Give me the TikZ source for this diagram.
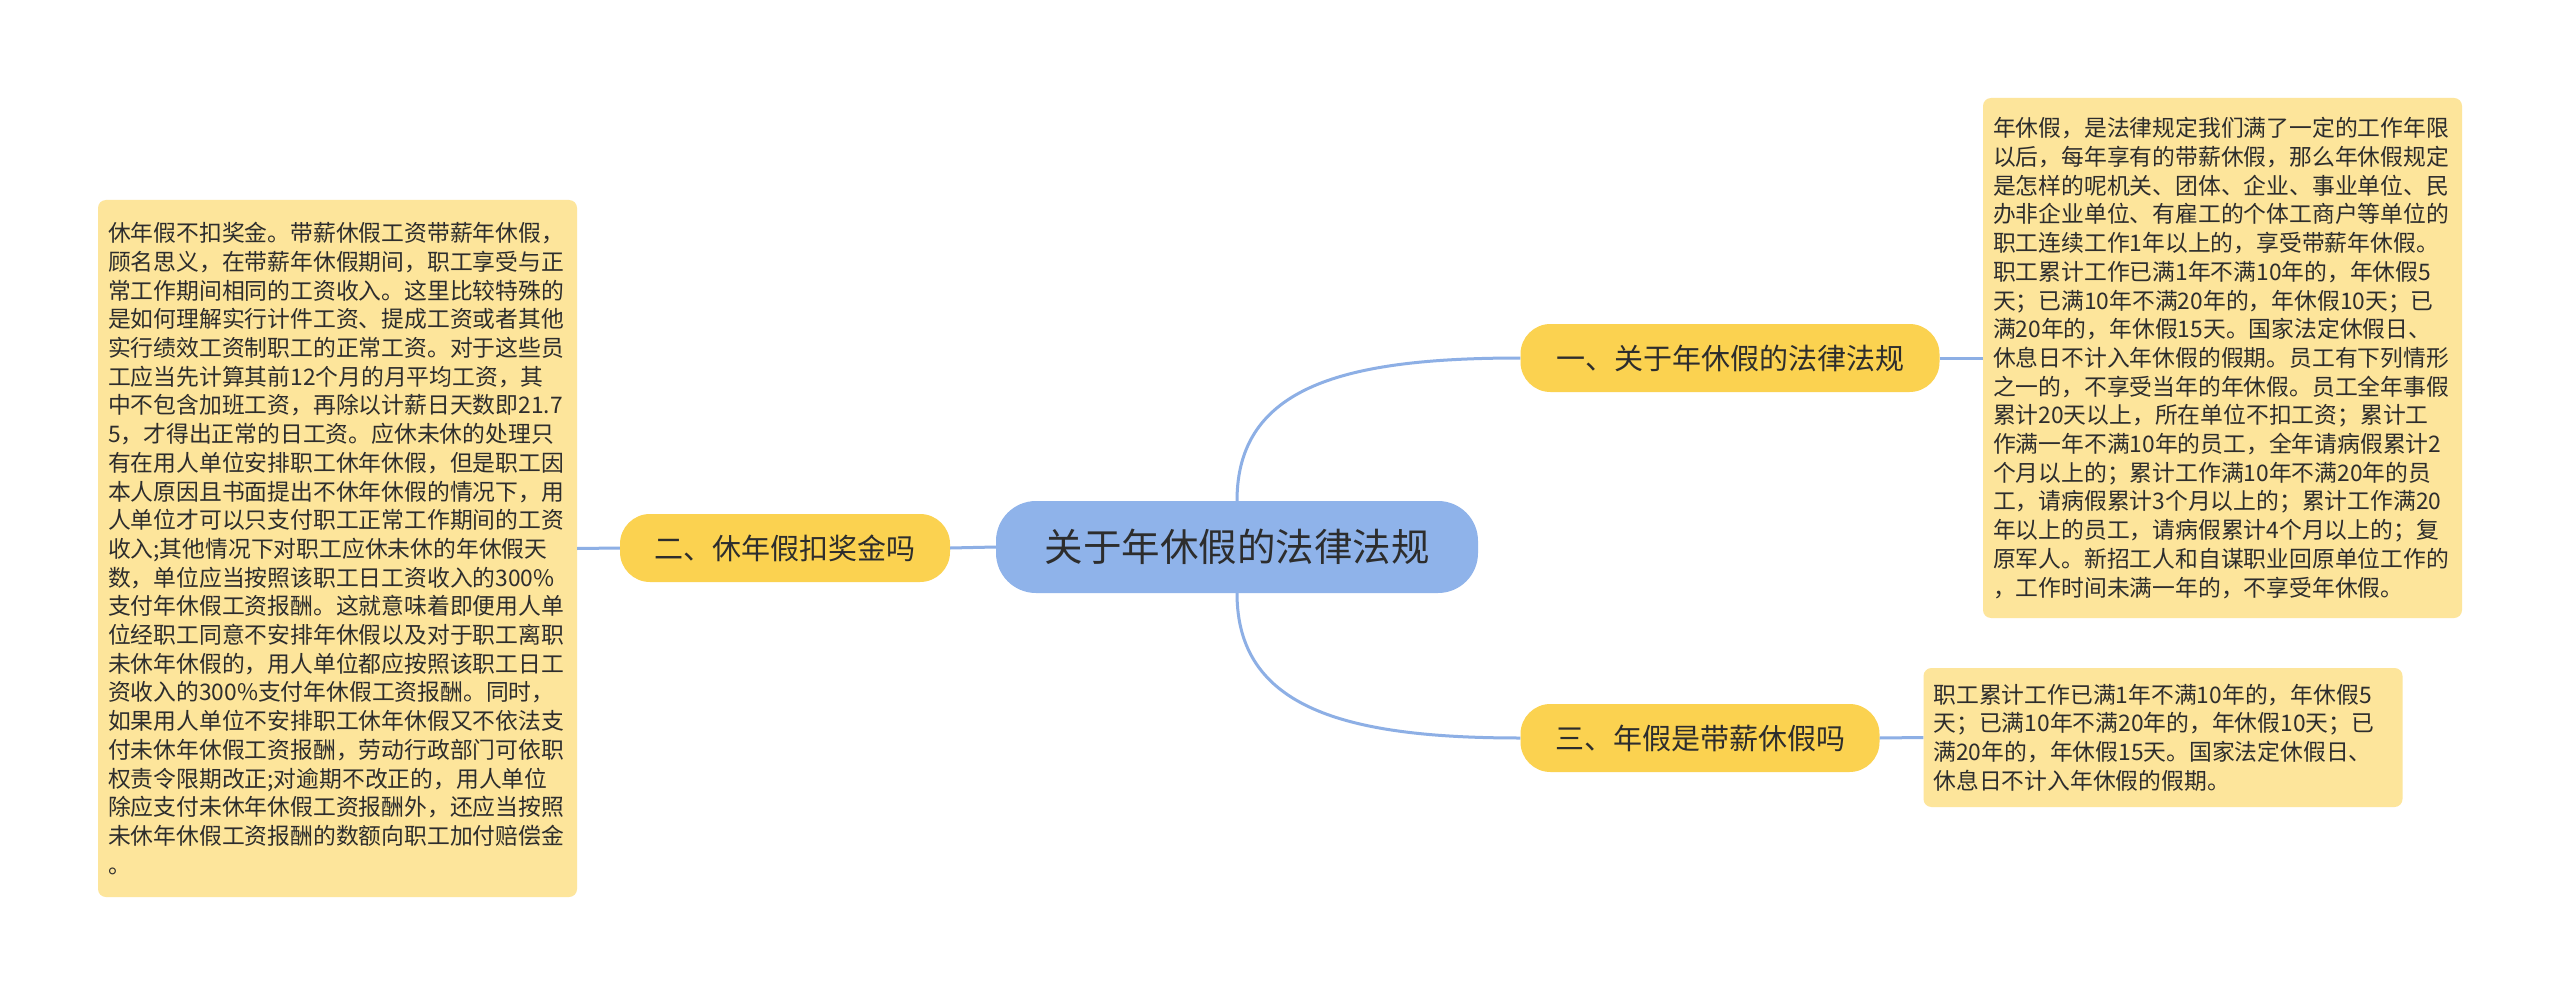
\documentclass[tikz,border=0pt]{standalone}
\usepackage{fontspec}
\setmainfont{Noto Sans CJK SC}
\definecolor{centc}{RGB}{143,179,234}
\definecolor{branchc}{RGB}{251,210,80}
\definecolor{leafc}{RGB}{253,229,155}
\definecolor{linec}{RGB}{141,175,229}
\definecolor{txt}{RGB}{45,45,45}
\begin{document}
\begin{tikzpicture}[x=1pt,y=-1pt,
  leaf/.style={rectangle, rounded corners=8pt, fill=leafc, text=txt,
    font=\fontsize{22.8}{28.7}\selectfont, align=left,
    inner xsep=10pt, inner ysep=0pt, text width=459pt},
  branch/.style={rectangle, rounded corners=30pt, fill=branchc, text=txt,
    font=\fontsize{29}{35}\selectfont, minimum height=68pt, inner sep=0pt},
  central/.style={rectangle, rounded corners=40pt, fill=centc, text=txt,
    font=\fontsize{38.5}{46}\selectfont, minimum width=482pt,
    minimum height=92pt, inner sep=0pt},
  conn/.style={draw=linec, line width=3pt}]
\fill[white] (0,0) rectangle (2560,995);
\useasboundingbox (0,0) rectangle (2560,995);

\node[central] (c) at (1237,547) {关于年休假的法律法规};
\node[branch, minimum width=419pt] (n1) at (1730,358) {一、关于年休假的法律法规};
\node[branch, minimum width=330pt] (n2) at (785,548) {二、休年假扣奖金吗};
\node[branch, minimum width=359pt] (n3) at (1700,738) {三、年假是带薪休假吗};

\node[leaf, minimum height=697pt] (bl) at (337.5,548.5) {%
休年假不扣奖金。带薪休假工资带薪年休假，\\
顾名思义，在带薪年休假期间，职工享受与正\\
常工作期间相同的工资收入。这里比较特殊的\\
是如何理解实行计件工资、提成工资或者其他\\
实行绩效工资制职工的正常工资。对于这些员\\
工应当先计算其前12个月的月平均工资，其\\
中不包含加班工资，再除以计薪日天数即21.7\\
5，才得出正常的日工资。应休未休的处理只\\
有在用人单位安排职工休年休假，但是职工因\\
本人原因且书面提出不休年休假的情况下，用\\
人单位才可以只支付职工正常工作期间的工资\\
收入;其他情况下对职工应休未休的年休假天\\
数，单位应当按照该职工日工资收入的300\%\\
支付年休假工资报酬。这就意味着即便用人单\\
位经职工同意不安排年休假以及对于职工离职\\
未休年休假的，用人单位都应按照该职工日工\\
资收入的300\%支付年休假工资报酬。同时，\\
如果用人单位不安排职工休年休假又不依法支\\
付未休年休假工资报酬，劳动行政部门可依职\\
权责令限期改正;对逾期不改正的，用人单位\\
除应支付未休年休假工资报酬外，还应当按照\\
未休年休假工资报酬的数额向职工加付赔偿金\\
。};

\node[leaf, minimum height=520pt] (br1) at (2222.5,358) {%
年休假，是法律规定我们满了一定的工作年限\\
以后，每年享有的带薪休假，那么年休假规定\\
是怎样的呢机关、团体、企业、事业单位、民\\
办非企业单位、有雇工的个体工商户等单位的\\
职工连续工作1年以上的，享受带薪年休假。\\
职工累计工作已满1年不满10年的，年休假5\\
天；已满10年不满20年的，年休假10天；已\\
满20年的，年休假15天。国家法定休假日、\\
休息日不计入年休假的假期。员工有下列情形\\
之一的，不享受当年的年休假。员工全年事假\\
累计20天以上，所在单位不扣工资；累计工\\
作满一年不满10年的员工，全年请病假累计2\\
个月以上的；累计工作满10年不满20年的员\\
工，请病假累计3个月以上的；累计工作满20\\
年以上的员工，请病假累计4个月以上的；复\\
原军人。新招工人和自谋职业回原单位工作的\\
，工作时间未满一年的，不享受年休假。};

\node[leaf, minimum height=139pt] (br2) at (2163,737.5) {%
职工累计工作已满1年不满10年的，年休假5\\
天；已满10年不满20年的，年休假10天；已\\
满20年的，年休假15天。国家法定休假日、\\
休息日不计入年休假的假期。};

\draw[conn] (c.north) .. controls +(0,-115) and +(-175,0) .. (n1.west);
\draw[conn] (c.south) .. controls +(0,115) and +(-175,0) .. (n3.west);
\draw[conn] (c.west) -- (n2.east);
\draw[conn] (n2.west) -- (bl.east);
\draw[conn] (n1.east) -- (br1.west);
\draw[conn] (n3.east) -- (br2.west);
\end{tikzpicture}
\end{document}
